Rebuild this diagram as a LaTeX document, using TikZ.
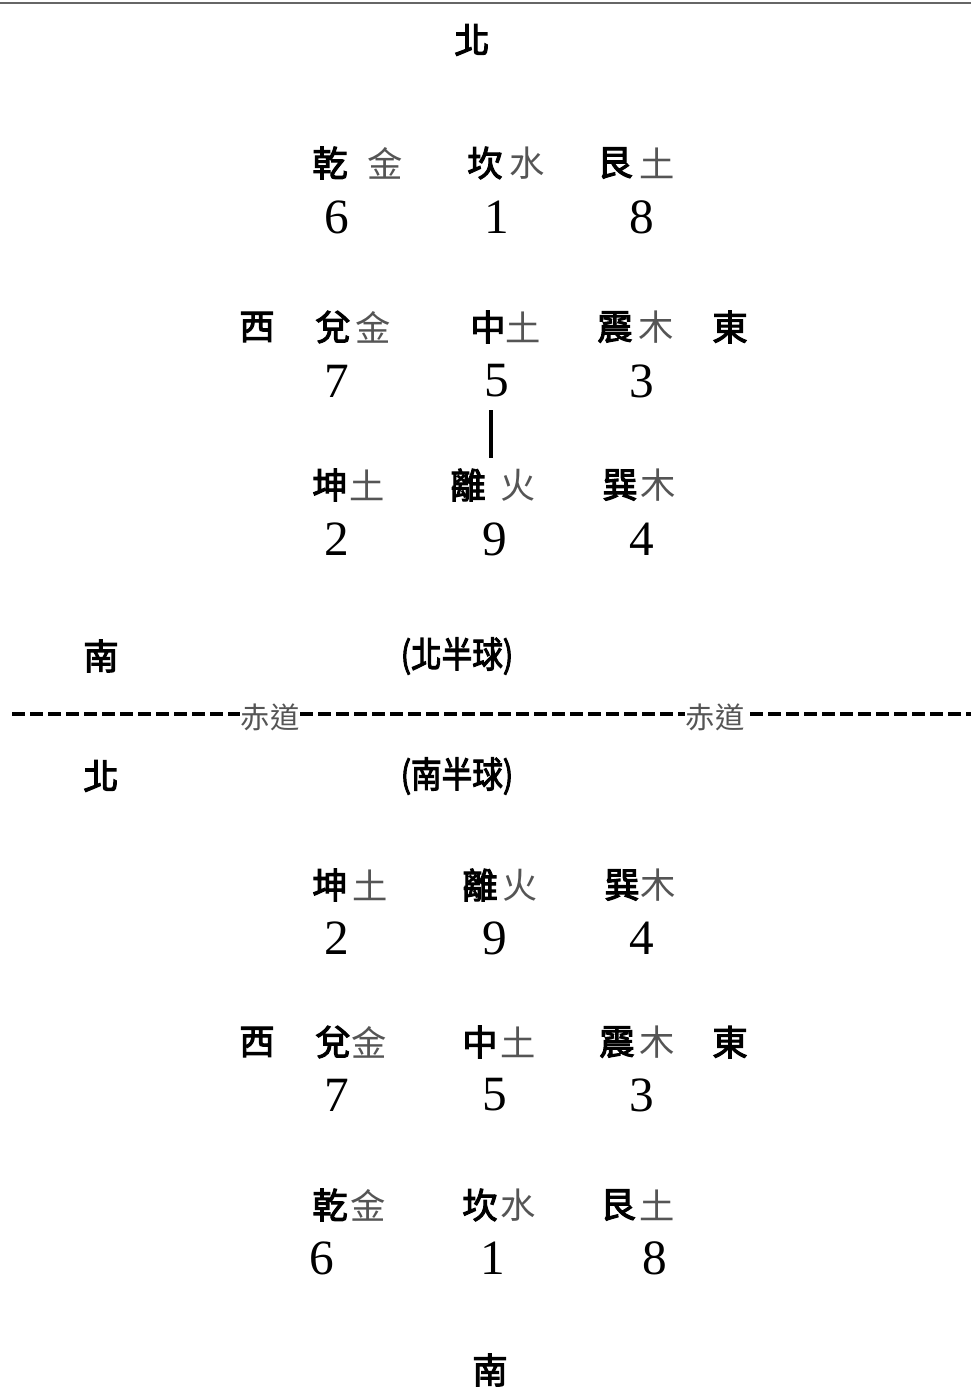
\documentclass[tikz,border=0pt]{standalone}
\usepackage{fontspec}
\newfontfamily\cjk{Noto Sans CJK TC}[FakeBold=3]
\newfontfamily\cjkr{Noto Sans CJK TC}
\setmainfont{Liberation Serif}
\definecolor{elem}{HTML}{555555}
\begin{document}
\begin{tikzpicture}[x=0.75pt,y=-0.75pt,
  dir/.style={font=\cjk\fontsize{26.5}{26.5}\selectfont, inner sep=0pt},
  gua/.style={font=\cjk\fontsize{26.5}{26.5}\selectfont, inner sep=0pt},
  elem/.style={font=\cjkr\fontsize{26.5}{26.5}\selectfont, text=elem, inner sep=0pt},
  num/.style={font=\fontsize{37}{37}\selectfont, inner sep=0pt},
  hemi/.style={font=\cjk\fontsize{27}{27}\selectfont, inner sep=0pt, xscale=0.85, transform shape},
  eq/.style={font=\cjkr\fontsize{22}{22}\selectfont, text=elem, fill=white, inner sep=0.5pt}]
\useasboundingbox (0,0) rectangle (971,1387);
\draw[black!60, line width=1.6pt] (0,3) -- (971,3);
% top hemisphere
\node[dir] (n1) at (472,40) {北};
\node[gua] (qian1) at (330,163) {乾}; \node[elem] (qian1e) at (385,163) {金};
\node[gua] (kan1) at (485,163) {坎}; \node[elem] (kan1e) at (527,163) {水};
\node[gua] (gen1) at (615,163) {艮}; \node[elem] (gen1e) at (657,163) {土};
\node[num] (a6) at (337,217) {6}; \node[num] (a1) at (497,217) {1}; \node[num] (a8) at (642,217) {8};
\node[dir] (w1) at (257,327) {西};
\node[gua] (dui1) at (333,327) {兌}; \node[elem] (dui1e) at (373,327) {金};
\node[gua] (zh1) at (488,327) {中}; \node[elem] (zh1e) at (523,327) {土};
\node[gua] (zhen1) at (615,327) {震}; \node[elem] (zhen1e) at (656,327) {木};
\node[dir] (e1) at (730,327) {東};
\node[num] (a7) at (337,381) {7}; \node[num] (a5) at (497,381) {5}; \node[num] (a3) at (642,381) {3};
\node[gua] (kun1) at (330,485) {坤}; \node[elem] (kun1e) at (367,485) {土};
\node[gua] (li1) at (468,485) {離}; \node[elem] (li1e) at (518,485) {火};
\node[gua] (xun1) at (620,485) {巽}; \node[elem] (xun1e) at (658,485) {木};
\coordinate (lt) at (491,410); \coordinate (lb) at (491,458);
\draw[line width=2.6pt] (lt) -- (lb);
\node[num] (a2) at (337,539) {2}; \node[num] (a9) at (495,539) {9}; \node[num] (a4) at (642,539) {4};
\node[dir] (s1) at (101,656) {南};
\node[hemi] (nh) at (457,656) {(北半球)};
% equator
\coordinate (eqL) at (12,714); \coordinate (eqR) at (971,714);
\draw[line width=2.6pt, dash pattern=on 9.5pt off 4pt] (eqL) -- (eqR);
\node[eq] (eq1) at (270,717) {赤道};
\node[eq] (eq2) at (715,717) {赤道};
% bottom hemisphere
\node[dir] (n2) at (101,776) {北};
\node[hemi] (sh) at (457,776) {(南半球)};
\node[gua] (kun2) at (330,885) {坤}; \node[elem] (kun2e) at (370,885) {土};
\node[gua] (li2) at (480,885) {離}; \node[elem] (li2e) at (520,885) {火};
\node[gua] (xun2) at (622,885) {巽}; \node[elem] (xun2e) at (658,885) {木};
\node[num] (b2) at (337,938) {2}; \node[num] (b9) at (495,938) {9}; \node[num] (b4) at (642,938) {4};
\node[dir] (w2) at (257,1042) {西};
\node[gua] (dui2) at (333,1042) {兌}; \node[elem] (dui2e) at (369,1042) {金};
\node[gua] (zh2) at (480,1042) {中}; \node[elem] (zh2e) at (518,1042) {土};
\node[gua] (zhen2) at (617,1042) {震}; \node[elem] (zhen2e) at (657,1042) {木};
\node[dir] (e2) at (730,1042) {東};
\node[num] (b7) at (337,1095) {7}; \node[num] (b5) at (495,1095) {5}; \node[num] (b3) at (642,1095) {3};
\node[gua] (qian2) at (330,1205) {乾}; \node[elem] (qian2e) at (368,1205) {金};
\node[gua] (kan2) at (480,1205) {坎}; \node[elem] (kan2e) at (518,1205) {水};
\node[gua] (gen2) at (618,1205) {艮}; \node[elem] (gen2e) at (657,1205) {土};
\node[num] (b6) at (322,1258) {6}; \node[num] (b1) at (493,1258) {1}; \node[num] (b8) at (655,1258) {8};
\node[dir] (s2) at (490,1370) {南};
\end{tikzpicture}
\end{document}
